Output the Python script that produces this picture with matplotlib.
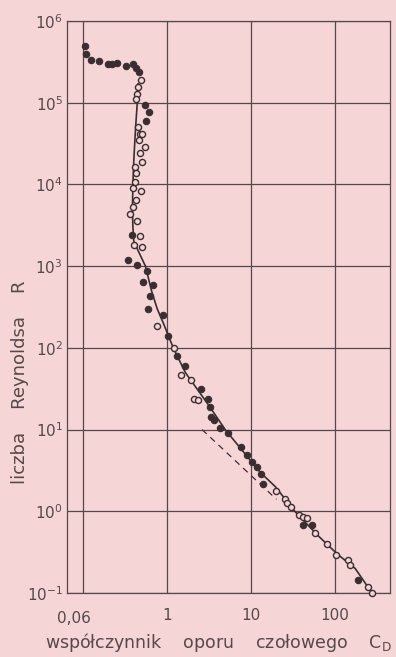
import numpy as np
import matplotlib.pyplot as plt
from matplotlib.ticker import FixedLocator, NullLocator

# ---------- data ----------
# smooth drag curve (C_D, Re)
curve_cd = [0.45, 0.44, 0.42, 0.40, 0.39, 0.385, 0.39, 0.40, 0.55, 0.65, 0.76,
            0.90, 1.18, 1.64, 2.34, 3.1, 4.9, 8.5, 12.8, 19.4, 33, 63, 106, 173, 275]
curve_re = [1.7e5, 1e5, 5e4, 2e4, 1e4, 5e3, 3e3, 2e3, 1e3, 500, 300,
            200, 100, 50, 30, 20, 10, 5, 3, 2, 1, 0.5, 0.3, 0.2, 0.1]

# Stokes-law asymptote (dashed)
stokes_cd = [2.6, 20]
stokes_re = [10, 1.4]

# measurements, filled markers
filled_cd = [0.104, 0.109, 0.124, 0.156, 0.197, 0.22, 0.252, 0.325, 0.391, 0.424, 0.455,
             0.547, 0.599, 0.557,
             0.38, 0.343, 0.436, 0.567, 0.518, 0.676, 0.628, 0.589, 0.884,
             1.01, 1.29, 1.61, 2.5,
             3.1, 3.19, 3.34, 3.56, 4.2, 5.25, 7.5, 8.8, 10.2, 11.8, 13.2, 13.8,
             41, 52.8, 187]
filled_re = [5.0e5, 4.0e5, 3.3e5, 3.2e5, 2.96e5, 2.98e5, 3.1e5, 2.85e5, 2.96e5, 2.69e5, 2.4e5,
             9.4e4, 7.7e4, 6.0e4,
             2.4e3, 1.19e3, 1.03e3, 880, 646, 589, 428, 302, 253,
             140, 80, 60, 31,
             24, 18.9, 14.1, 13.1, 10.6, 9.0, 6.1, 4.9, 4.05, 3.5, 2.9, 2.13,
             0.67, 0.68, 0.146]

# measurements, open markers
open_cd = [0.486, 0.448, 0.436, 0.428,
           0.448, 0.468, 0.50, 0.455, 0.547, 0.477, 0.50, 0.416, 0.428, 0.416, 0.391,
           0.486, 0.428, 0.391, 0.363, 0.436, 0.468, 0.405, 0.50,
           0.75, 1.21, 1.44, 1.93, 2.07, 2.31,
           20, 25.4, 26.6, 29.4, 36.6, 41.6, 46, 57.8, 80, 102, 144, 151, 249, 272]
open_re = [1.9e5, 1.55e5, 1.27e5, 1.11e5,
           5.1e4, 4.2e4, 4.1e4, 3.5e4, 2.9e4, 2.45e4, 1.9e4, 1.65e4, 1.37e4, 1.08e4, 9.0e3,
           8.2e3, 6.5e3, 5.3e3, 4.4e3, 3.6e3, 2.35e3, 1.8e3, 1.7e3,
           183, 100, 47, 40, 24, 22.7,
           1.77, 1.40, 1.26, 1.13, 0.90, 0.85, 0.82, 0.55, 0.40, 0.29, 0.254, 0.222, 0.119, 0.1]

x_grid = [0.1, 1, 10, 100]
x_labels = ["", "1", "10", "100"]
y_grid = [1e-1, 1, 1e1, 1e2, 1e3, 1e4, 1e5, 1e6]
y_labels = [r"$\mathregular{10^{-1}}$", r"$\mathregular{10^{0}}$", r"$\mathregular{10^{1}}$",
            r"$\mathregular{10^{2}}$", r"$\mathregular{10^{3}}$", r"$\mathregular{10^{4}}$",
            r"$\mathregular{10^{5}}$", r"$\mathregular{10^{6}}$"]

# ---------- style ----------
bg = "#f6d5d7"
ink = "#3a2e30"
txt = "#584849"

plt.rcParams["font.family"] = ["DejaVu Sans"]
plt.rcParams["mathtext.fontset"] = "dejavusans"

fig = plt.figure(figsize=(3.96, 6.57), dpi=100, facecolor=bg)
ax = fig.add_axes([67 / 396, 64 / 657, 323 / 396, 572 / 657])
ax.set_facecolor(bg)

ax.set_xscale("log")
ax.set_yscale("log")
ax.set_xlim(0.064, 450)
ax.set_ylim(0.1, 1e6)

ax.xaxis.set_major_locator(FixedLocator(x_grid))
ax.xaxis.set_minor_locator(NullLocator())
ax.yaxis.set_major_locator(FixedLocator(y_grid))
ax.yaxis.set_minor_locator(NullLocator())
ax.set_xticklabels(x_labels)
ax.set_yticklabels(y_labels)
ax.tick_params(length=0, colors=txt, labelsize=11)
ax.tick_params(axis="x", pad=11)
ax.tick_params(axis="y", pad=3)
ax.grid(True, color="#574748", linewidth=0.9)
for s in ax.spines.values():
    s.set_color("#574748")
    s.set_linewidth(0.9)

ax.plot(curve_cd, curve_re, color=ink, linewidth=1.2, zorder=3)
ax.plot(stokes_cd, stokes_re, color=ink, linewidth=0.9, dashes=(5, 4), zorder=3)
ax.plot(filled_cd, filled_re, "o", ms=4.6, mfc=ink, mec=ink, mew=0.8, zorder=4,
        clip_on=False)
ax.plot(open_cd, open_re, "o", ms=4.4, mfc=bg, mec=ink, mew=1.0, zorder=4,
        clip_on=False)

# left-edge label of the x axis
ax.text(0.078, -0.045, "0,06", transform=ax.get_xaxis_transform(), ha="center",
        va="center", fontsize=11, color=txt)

fig.text(218 / 396, 1 - 643 / 657,
         "współczynnik    oporu    czołowego    $\\mathregular{C_D}$",
         ha="center", va="center", fontsize=12.5, color=txt)
fig.text(20 / 396, 1 - 382 / 657, "liczba    Reynoldsa    R", rotation=90,
         ha="center", va="center", fontsize=13, color=txt)

fig.savefig("out.png", dpi=100, facecolor=bg)
